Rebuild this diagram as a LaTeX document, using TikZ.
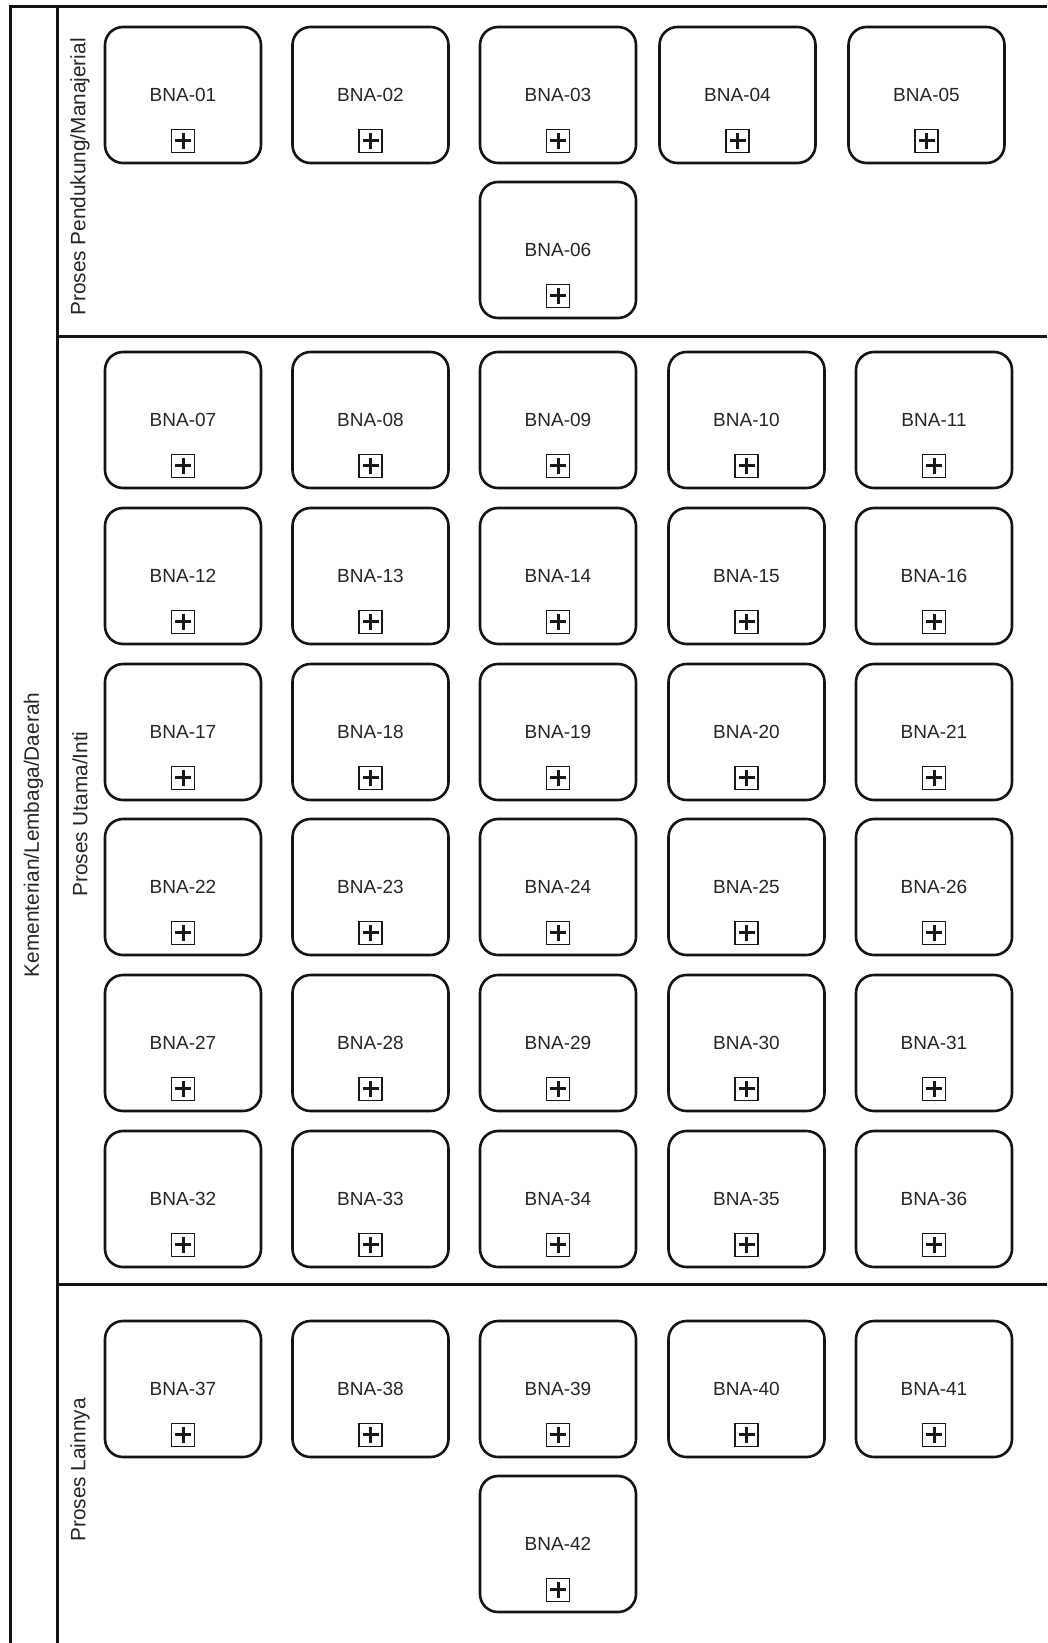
\documentclass[tikz,border=0pt]{standalone}
\usepackage{fontspec}
\setmainfont{Liberation Sans}
\begin{document}
\begin{tikzpicture}[x=1pt,y=-1pt,
  bna/.style={draw=black!92, line width=2.6pt, rounded corners=18pt, minimum width=156pt, minimum height=136pt, inner sep=0pt, font=\fontsize{19}{21}\selectfont, text=black!85},
  plusbox/.style={draw=black!90, line width=1.4pt, minimum size=23pt, inner sep=0pt,
    path picture={
      \draw[line width=3pt] ([xshift=-8pt]path picture bounding box.center) -- ([xshift=8pt]path picture bounding box.center);
      \draw[line width=3pt] ([yshift=-8pt]path picture bounding box.center) -- ([yshift=8pt]path picture bounding box.center);}},
  lane/.style={draw=black!92, line width=3pt},
  lanelabel/.style={rotate=90, font=\fontsize{20.8}{23}\selectfont, inner sep=0pt, text=black!85}
]
\useasboundingbox[fill=white] (0,0) rectangle (1047,1643);
% pool and lanes
\coordinate (poolTL) at (10,7);
\coordinate (poolBL) at (10,1643);
\coordinate (poolTR) at (1047,7);
\coordinate (hdrT) at (57,7);
\coordinate (hdrB) at (57,1643);
\coordinate (d1L) at (57,336);
\coordinate (d1R) at (1047,336);
\coordinate (d2L) at (57,1284);
\coordinate (d2R) at (1047,1284);
\draw[lane] (poolBL) -- (poolTL) -- (poolTR);
\draw[lane] (hdrT) -- (hdrB);
\draw[lane] (d1L) -- (d1R);
\draw[lane] (d2L) -- (d2R);
% labels
\node[lanelabel] (pool) at (33.5,835) {Kementerian/Lembaga/Daerah};
\node[lanelabel] (lane1) at (80,177) {Proses Pendukung/Manajerial};
\node[lanelabel] (lane2) at (80,814) {Proses Utama/Inti};
\node[lanelabel] (lane3) at (80,1470) {Proses Lainnya};
% boxes
\foreach \n/\x/\y in {01/183/95, 02/370.5/95, 03/558/95, 04/737.5/95, 05/926.5/95, 06/558/250,
  07/183/420, 08/370.5/420, 09/558/420, 10/746.5/420, 11/934/420,
  12/183/576, 13/370.5/576, 14/558/576, 15/746.5/576, 16/934/576,
  17/183/732, 18/370.5/732, 19/558/732, 20/746.5/732, 21/934/732,
  22/183/887, 23/370.5/887, 24/558/887, 25/746.5/887, 26/934/887,
  27/183/1043, 28/370.5/1043, 29/558/1043, 30/746.5/1043, 31/934/1043,
  32/183/1199, 33/370.5/1199, 34/558/1199, 35/746.5/1199, 36/934/1199,
  37/183/1389, 38/370.5/1389, 39/558/1389, 40/746.5/1389, 41/934/1389,
  42/558/1544}{
  \node[bna] (b\n) at (\x,\y) {BNA-\n};
  \node[plusbox] (p\n) at ([yshift=23.5pt]b\n.south) {};
}
\end{tikzpicture}
\end{document}
